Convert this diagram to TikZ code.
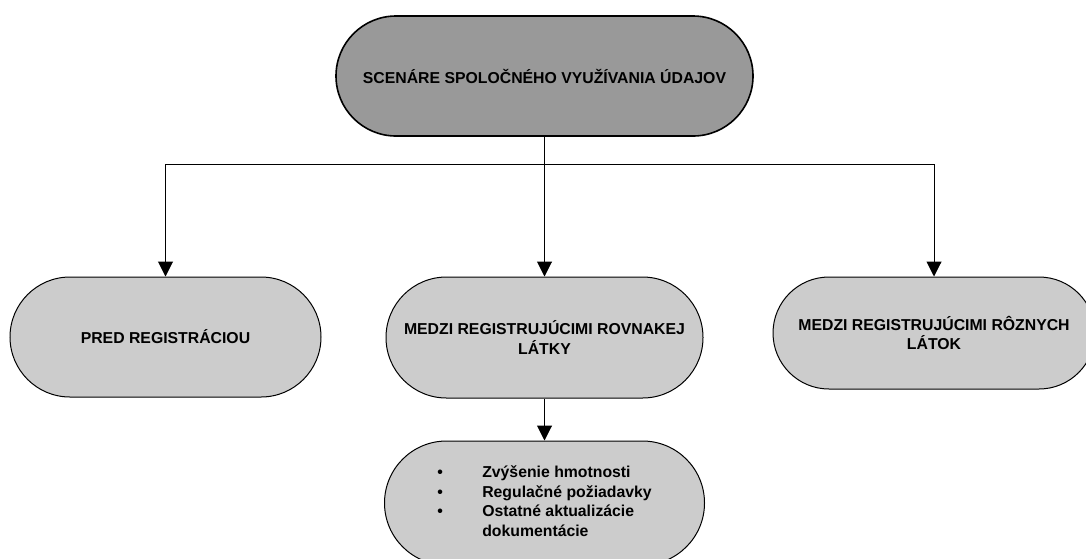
\documentclass[tikz,border=0pt]{standalone}
\usepackage{fontspec}
\setmainfont{Liberation Sans}
\usetikzlibrary{arrows.meta,shapes.misc}
\definecolor{topgray}{HTML}{999999}
\definecolor{boxgray}{HTML}{CCCCCC}

\begin{document}
\begin{tikzpicture}[x=1pt,y=-1pt,>={Triangle[length=15pt,width=15pt]},
    pill/.style={rounded rectangle,draw,fill=boxgray,line width=1pt,inner sep=0pt,
      align=center,font=\bfseries\fontsize{15.8}{19.5}\selectfont},
    link/.style={line width=1pt}]
  \useasboundingbox (0,0) rectangle (1086,558);
  \node[pill,fill=topgray,line width=1.6pt,minimum width=417pt,minimum height=120pt]
    (top) at (544.5,76) {SCENÁRE SPOLOČNÉHO VYUŽÍVANIA ÚDAJOV};
  \node[pill,minimum width=311pt,minimum height=120pt] (prereg) at (165.5,337)
    {PRED REGISTRÁCIOU};
  \node[pill,minimum width=317pt,minimum height=121pt] (same) at (544.5,337.5)
    {MEDZI REGISTRUJÚCIMI ROVNAKEJ\\LÁTKY};
  \node[pill,minimum width=322pt,minimum height=112pt] (diff) at (934,333)
    {MEDZI REGISTRUJÚCIMI RÔZNYCH\\LÁTOK};
  \node[pill,minimum width=320pt,minimum height=124pt] (updates) at (544.5,503)
    {\begin{tabular}{@{}p{45pt}@{}l@{}}
      • & Zvýšenie hmotnosti\\
      • & Regulačné požiadavky\\
      • & Ostatné aktualizácie\\
        & dokumentácie
    \end{tabular}};
  \coordinate (hub) at (544.5,164);
  \draw[link] (top.south) -- (hub);
  \draw[link,->] (hub) -| (prereg.north);
  \draw[link,->] (hub) -- (same.north);
  \draw[link,->] (hub) -| (diff.north);
  \draw[link,->] (same.south) -- (updates.north);
\end{tikzpicture}
\end{document}
